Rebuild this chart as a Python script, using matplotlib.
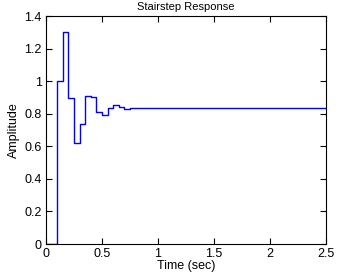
import matplotlib
matplotlib.use('Agg')
import matplotlib.pyplot as plt

# sample times where the output changes, and the held value from each
t = [0, 0.1, 0.15, 0.2, 0.25, 0.3, 0.35, 0.4, 0.45, 0.5, 0.55, 0.6, 0.65,
     0.7, 0.75, 0.8, 0.95, 1.05, 1.15, 1.25, 2.5]
y = [0, 1.0, 1.30, 0.895, 0.62, 0.738, 0.911, 0.905, 0.812, 0.794, 0.833,
     0.856, 0.843, 0.826, 0.833, 0.838, 0.833, 0.837, 0.833, 0.837, 0.837]
xticks = [0, 0.5, 1, 1.5, 2, 2.5]
xlabels = ['0', '0.5', '1', '1.5', '2', '2.5']
yticks = [0, 0.2, 0.4, 0.6, 0.8, 1.0, 1.2, 1.4]
ylabels = ['0', '0.2', '0.4', '0.6', '0.8', '1', '1.2', '1.4']

plt.rcParams['font.family'] = ['Liberation Sans', 'DejaVu Sans']
plt.rcParams['font.size'] = 9

fig = plt.figure(figsize=(3.61, 2.78), dpi=100, facecolor='white')
ax = fig.add_axes([0.1274, 0.1223, 0.7756, 0.8201])
ax.step(t, y, where='post', color='blue', lw=1.0)

ax.set_xlim(0, 2.5)
ax.set_ylim(0, 1.4)
ax.set_xticks(xticks)
ax.set_xticklabels(xlabels)
ax.set_yticks(yticks)
ax.set_yticklabels(ylabels)
ax.tick_params(direction='in', top=True, right=True, length=4, width=0.8, pad=3)
for s in ax.spines.values():
    s.set_linewidth(0.8)

ax.set_title('Stairstep Response', fontsize=8, pad=4)
ax.set_xlabel('Time (sec)', labelpad=0)
ax.set_ylabel('Amplitude', labelpad=3)

fig.savefig('out.png', dpi=100)
